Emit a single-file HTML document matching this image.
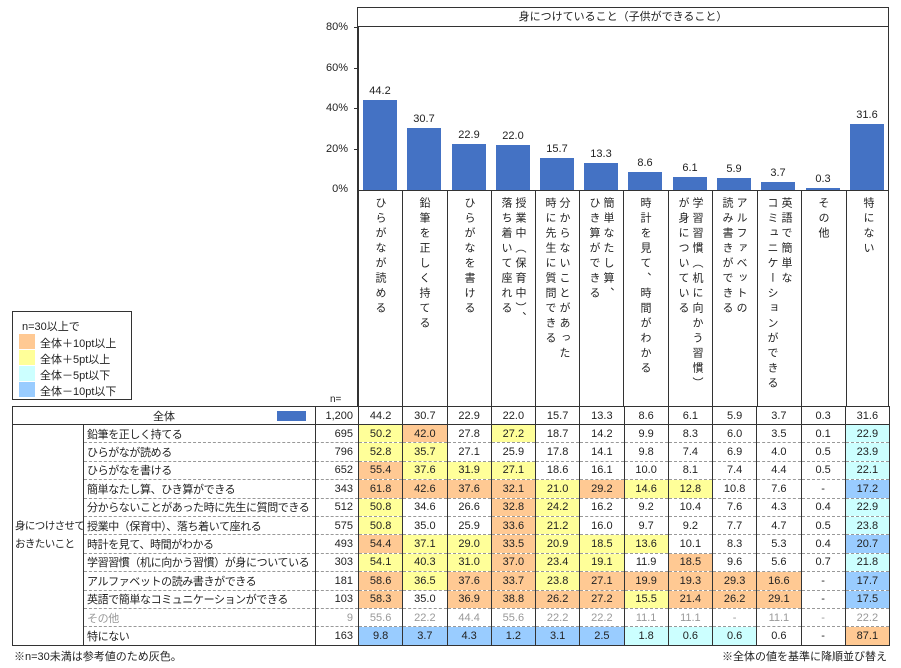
<!DOCTYPE html>
<html><head><meta charset="utf-8"><style>
*{margin:0;padding:0;box-sizing:border-box}
body{width:901px;height:668px;background:#fff;position:relative;overflow:hidden;font-family:"Liberation Sans","Noto Sans CJK JP",sans-serif;font-size:11px;color:#222}
.a{position:absolute}
.bar{position:absolute;background:#4472C4;width:34px}
.bl{position:absolute;width:44px;text-align:center;font-size:11px}
.yl{position:absolute;right:553px;font-size:11px;text-align:right}
.vl{position:absolute;top:197px;writing-mode:vertical-rl;font-size:11px;letter-spacing:4px;line-height:14px;width:44px;height:208px;display:flex;align-items:center;justify-content:flex-start}
.vc{position:absolute;top:190px;width:1px;height:216px;background:#333}
table{position:absolute;left:12px;top:406px;width:877px;border-collapse:collapse;table-layout:fixed}
td{height:18.4px;border-left:1px solid #333;border-right:1px solid #333;border-top:1px dashed #999;font-size:11px;text-align:center;padding:0;white-space:nowrap;overflow:hidden}
td.l{text-align:left;padding-left:3px;letter-spacing:-0.4px}
td.n{text-align:right;padding-right:5px}
tr.h td{border-top:1.5px solid #333;border-bottom:1.5px solid #333;height:18px}
tr.last td{border-bottom:1.5px solid #333}
.O{background:#FFC993}.Y{background:#FFFF99}.C{background:#CCFFFF}.B{background:#99CCFF}
tr.g td{color:#999}
</style></head><body>
<div class="a" style="left:357px;top:7px;width:532px;height:20px;border:1px solid #333;text-align:center;line-height:18px;font-size:11px">身につけていること（子供ができること）</div>
<div class="a" style="left:357px;top:26px;width:1.5px;height:380px;background:#333"></div>
<div class="a" style="left:888px;top:26px;width:1px;height:380px;background:#333"></div>
<div class="a" style="left:357px;top:190px;width:532px;height:1px;background:#333"></div>
<div class="yl" style="top:21px">80%</div>
<div class="yl" style="top:62px">60%</div>
<div class="yl" style="top:102px">40%</div>
<div class="yl" style="top:143px">20%</div>
<div class="yl" style="top:183px">0%</div>
<div class="a" style="left:354px;top:27px;width:4px;height:1px;background:#333"></div>
<div class="a" style="left:354px;top:68px;width:4px;height:1px;background:#333"></div>
<div class="a" style="left:354px;top:108px;width:4px;height:1px;background:#333"></div>
<div class="a" style="left:354px;top:149px;width:4px;height:1px;background:#333"></div>
<div class="bar" style="left:363px;top:100px;height:90px"></div><div class="bl" style="left:358px;top:85px">44.2</div>
<div class="bar" style="left:407px;top:128px;height:62px"></div><div class="bl" style="left:402px;top:113px">30.7</div>
<div class="bar" style="left:452px;top:144px;height:46px"></div><div class="bl" style="left:447px;top:129px">22.9</div>
<div class="bar" style="left:496px;top:145px;height:45px"></div><div class="bl" style="left:491px;top:130px">22.0</div>
<div class="bar" style="left:540px;top:158px;height:32px"></div><div class="bl" style="left:535px;top:143px">15.7</div>
<div class="bar" style="left:584px;top:163px;height:27px"></div><div class="bl" style="left:579px;top:148px">13.3</div>
<div class="bar" style="left:628px;top:172px;height:18px"></div><div class="bl" style="left:623px;top:157px">8.6</div>
<div class="bar" style="left:673px;top:177px;height:13px"></div><div class="bl" style="left:668px;top:162px">6.1</div>
<div class="bar" style="left:717px;top:178px;height:12px"></div><div class="bl" style="left:712px;top:163px">5.9</div>
<div class="bar" style="left:761px;top:182px;height:8px"></div><div class="bl" style="left:756px;top:167px">3.7</div>
<div class="bar" style="left:806px;top:188px;height:2px"></div><div class="bl" style="left:801px;top:173px">0.3</div>
<div class="bar" style="left:850px;top:124px;height:66px"></div><div class="bl" style="left:845px;top:109px">31.6</div>
<div class="vc" style="left:402px"></div><div class="vc" style="left:447px"></div><div class="vc" style="left:491px"></div><div class="vc" style="left:535px"></div><div class="vc" style="left:579px"></div><div class="vc" style="left:623px"></div><div class="vc" style="left:668px"></div><div class="vc" style="left:712px"></div><div class="vc" style="left:757px"></div><div class="vc" style="left:801px"></div><div class="vc" style="left:846px"></div>
<div class="vl" style="left:358px">ひらがなが読める</div>
<div class="vl" style="left:402px">鉛筆を正しく持てる</div>
<div class="vl" style="left:447px">ひらがなを書ける</div>
<div class="vl" style="left:491px">授業中（保育中）、<br>落ち着いて座れる</div>
<div class="vl" style="left:535px">分からないことがあった<br>時に先生に質問できる</div>
<div class="vl" style="left:579px">簡単なたし算、<br>ひき算ができる</div>
<div class="vl" style="left:623px">時計を見て、時間がわかる</div>
<div class="vl" style="left:668px">学習習慣（机に向かう習慣）<br>が身についている</div>
<div class="vl" style="left:712px">アルファベットの<br>読み書きができる</div>
<div class="vl" style="left:757px">英語で簡単な<br>コミュニケーションができる</div>
<div class="vl" style="left:801px">その他</div>
<div class="vl" style="left:846px">特にない</div>
<div class="a" style="left:12px;top:311px;width:120px;height:89px;border:1px solid #333"></div>
<div class="a" style="left:22px;top:318px">n=30以上で</div>
<div class="a O" style="left:19px;top:334px;width:16px;height:15px"></div><div class="a" style="left:40px;top:335px">全体＋10pt以上</div>
<div class="a Y" style="left:19px;top:350px;width:16px;height:15px"></div><div class="a" style="left:40px;top:351px">全体＋5pt以上</div>
<div class="a C" style="left:19px;top:366px;width:16px;height:15px"></div><div class="a" style="left:40px;top:367px">全体－5pt以下</div>
<div class="a B" style="left:19px;top:382px;width:16px;height:15px"></div><div class="a" style="left:40px;top:383px">全体－10pt以下</div>
<div class="a" style="left:330px;top:394px;font-size:10px">n=</div>
<table>
<colgroup><col style="width:71px"><col style="width:232px"><col style="width:43px"><col span="12" style="width:44.25px"></colgroup>
<tr class="h"><td colspan="2" style="position:relative">全体<span style="position:absolute;left:264px;top:4px;width:29px;height:10px;background:#4472C4"></span></td><td class="n">1,200</td><td>44.2</td><td>30.7</td><td>22.9</td><td>22.0</td><td>15.7</td><td>13.3</td><td>8.6</td><td>6.1</td><td>5.9</td><td>3.7</td><td>0.3</td><td>31.6</td></tr>
<tr><td rowspan="12" class="l" style="border-bottom:1.5px solid #333;line-height:18px;vertical-align:middle;padding-left:2px;font-size:10.5px;letter-spacing:-0.6px">身につけさせて<br>おきたいこと</td><td class="l">鉛筆を正しく持てる</td><td class="n">695</td><td class="Y">50.2</td><td class="O">42.0</td><td>27.8</td><td class="Y">27.2</td><td>18.7</td><td>14.2</td><td>9.9</td><td>8.3</td><td>6.0</td><td>3.5</td><td>0.1</td><td class="C">22.9</td></tr>
<tr><td class="l">ひらがなが読める</td><td class="n">796</td><td class="Y">52.8</td><td class="Y">35.7</td><td>27.1</td><td>25.9</td><td>17.8</td><td>14.1</td><td>9.8</td><td>7.4</td><td>6.9</td><td>4.0</td><td>0.5</td><td class="C">23.9</td></tr>
<tr><td class="l">ひらがなを書ける</td><td class="n">652</td><td class="O">55.4</td><td class="Y">37.6</td><td class="Y">31.9</td><td class="Y">27.1</td><td>18.6</td><td>16.1</td><td>10.0</td><td>8.1</td><td>7.4</td><td>4.4</td><td>0.5</td><td class="C">22.1</td></tr>
<tr><td class="l">簡単なたし算、ひき算ができる</td><td class="n">343</td><td class="O">61.8</td><td class="O">42.6</td><td class="O">37.6</td><td class="O">32.1</td><td class="Y">21.0</td><td class="O">29.2</td><td class="Y">14.6</td><td class="Y">12.8</td><td>10.8</td><td>7.6</td><td>-</td><td class="B">17.2</td></tr>
<tr><td class="l">分からないことがあった時に先生に質問できる</td><td class="n">512</td><td class="Y">50.8</td><td>34.6</td><td>26.6</td><td class="O">32.8</td><td class="Y">24.2</td><td>16.2</td><td>9.2</td><td>10.4</td><td>7.6</td><td>4.3</td><td>0.4</td><td class="C">22.9</td></tr>
<tr><td class="l">授業中（保育中）、落ち着いて座れる</td><td class="n">575</td><td class="Y">50.8</td><td>35.0</td><td>25.9</td><td class="O">33.6</td><td class="Y">21.2</td><td>16.0</td><td>9.7</td><td>9.2</td><td>7.7</td><td>4.7</td><td>0.5</td><td class="C">23.8</td></tr>
<tr><td class="l">時計を見て、時間がわかる</td><td class="n">493</td><td class="O">54.4</td><td class="Y">37.1</td><td class="Y">29.0</td><td class="O">33.5</td><td class="Y">20.9</td><td class="Y">18.5</td><td class="Y">13.6</td><td>10.1</td><td>8.3</td><td>5.3</td><td>0.4</td><td class="B">20.7</td></tr>
<tr><td class="l">学習習慣（机に向かう習慣）が身についている</td><td class="n">303</td><td class="Y">54.1</td><td class="Y">40.3</td><td class="Y">31.0</td><td class="O">37.0</td><td class="Y">23.4</td><td class="Y">19.1</td><td>11.9</td><td class="O">18.5</td><td>9.6</td><td>5.6</td><td>0.7</td><td class="C">21.8</td></tr>
<tr><td class="l">アルファベットの読み書きができる</td><td class="n">181</td><td class="O">58.6</td><td class="Y">36.5</td><td class="O">37.6</td><td class="O">33.7</td><td class="Y">23.8</td><td class="O">27.1</td><td class="O">19.9</td><td class="O">19.3</td><td class="O">29.3</td><td class="O">16.6</td><td>-</td><td class="B">17.7</td></tr>
<tr><td class="l">英語で簡単なコミュニケーションができる</td><td class="n">103</td><td class="O">58.3</td><td>35.0</td><td class="O">36.9</td><td class="O">38.8</td><td class="O">26.2</td><td class="O">27.2</td><td class="Y">15.5</td><td class="O">21.4</td><td class="O">26.2</td><td class="O">29.1</td><td>-</td><td class="B">17.5</td></tr>
<tr class="g"><td class="l">その他</td><td class="n">9</td><td>55.6</td><td>22.2</td><td>44.4</td><td>55.6</td><td>22.2</td><td>22.2</td><td>11.1</td><td>11.1</td><td>-</td><td>11.1</td><td>-</td><td>22.2</td></tr>
<tr class="last"><td class="l">特にない</td><td class="n">163</td><td class="B">9.8</td><td class="B">3.7</td><td class="B">4.3</td><td class="B">1.2</td><td class="B">3.1</td><td class="B">2.5</td><td class="C">1.8</td><td class="C">0.6</td><td class="C">0.6</td><td>0.6</td><td>-</td><td class="O">87.1</td></tr>
</table>
<div class="a" style="left:14px;top:648px">※n=30未満は参考値のため灰色。</div>
<div class="a" style="right:14px;top:648px">※全体の値を基準に降順並び替え</div>
</body></html>
